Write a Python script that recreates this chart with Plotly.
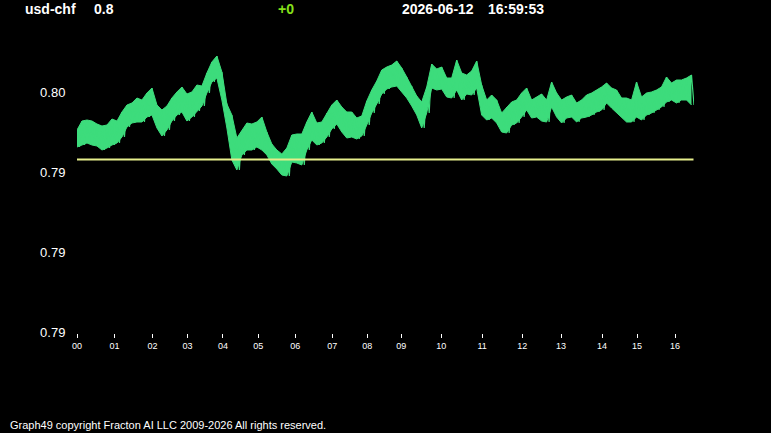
import plotly.graph_objects as go

# --- data ---------------------------------------------------------------
symbol = "usd-chf"
last_price = "0.8"
change = "+0"
date_str = "2026-06-12"
time_str = "16:59:53"
reference_level = 0.7943

# upper / lower envelope of the tick series, one pair per sample
hi = [0.79548, 0.79584, 0.79588, 0.79584, 0.79572, 0.79564, 0.79568, 0.79592, 0.79584, 0.79620,
      0.79648, 0.79656, 0.79676, 0.79668, 0.79696, 0.79716, 0.79648, 0.79628, 0.79644, 0.79676,
      0.79700, 0.79720, 0.79692, 0.79700, 0.79728, 0.79724, 0.79776, 0.79820, 0.79844, 0.79780,
      0.79652, 0.79608, 0.79516, 0.79544, 0.79576, 0.79572, 0.79580, 0.79600, 0.79540, 0.79492,
      0.79468, 0.79452, 0.79476, 0.79528, 0.79532, 0.79532, 0.79580, 0.79620, 0.79576, 0.79580,
      0.79616, 0.79648, 0.79668, 0.79640, 0.79620, 0.79620, 0.79596, 0.79604, 0.79664, 0.79708,
      0.79744, 0.79788, 0.79800, 0.79808, 0.79824, 0.79796, 0.79760, 0.79724, 0.79684, 0.79660,
      0.79720, 0.79812, 0.79792, 0.79800, 0.79756, 0.79756, 0.79828, 0.79776, 0.79768, 0.79784,
      0.79824, 0.79728, 0.79668, 0.79688, 0.79668, 0.79616, 0.79640, 0.79660, 0.79668, 0.79696,
      0.79716, 0.79668, 0.79680, 0.79692, 0.79668, 0.79740, 0.79696, 0.79668, 0.79680, 0.79688,
      0.79656, 0.79668, 0.79688, 0.79696, 0.79708, 0.79720, 0.79736, 0.79716, 0.79708, 0.79676,
      0.79676, 0.79668, 0.79740, 0.79680, 0.79696, 0.79700, 0.79708, 0.79720, 0.79760, 0.79736,
      0.79748, 0.79748, 0.79756, 0.79768]
lo = [0.79480, 0.79488, 0.79496, 0.79488, 0.79484, 0.79468, 0.79476, 0.79488, 0.79496, 0.79520,
      0.79560, 0.79576, 0.79580, 0.79580, 0.79600, 0.79608, 0.79556, 0.79524, 0.79548, 0.79584,
      0.79608, 0.79620, 0.79584, 0.79600, 0.79624, 0.79644, 0.79696, 0.79740, 0.79756, 0.79668,
      0.79556, 0.79428, 0.79388, 0.79448, 0.79468, 0.79468, 0.79480, 0.79468, 0.79448, 0.79412,
      0.79392, 0.79368, 0.79364, 0.79420, 0.79416, 0.79408, 0.79468, 0.79508, 0.79488, 0.79496,
      0.79520, 0.79552, 0.79572, 0.79540, 0.79516, 0.79520, 0.79512, 0.79524, 0.79568, 0.79616,
      0.79652, 0.79692, 0.79712, 0.79720, 0.79724, 0.79700, 0.79676, 0.79644, 0.79608, 0.79556,
      0.79616, 0.79716, 0.79708, 0.79712, 0.79680, 0.79676, 0.79708, 0.79668, 0.79692, 0.79688,
      0.79716, 0.79608, 0.79588, 0.79596, 0.79576, 0.79540, 0.79536, 0.79568, 0.79576, 0.79600,
      0.79628, 0.79596, 0.79600, 0.79584, 0.79580, 0.79640, 0.79600, 0.79576, 0.79596, 0.79600,
      0.79580, 0.79596, 0.79600, 0.79608, 0.79620, 0.79628, 0.79656, 0.79636, 0.79616, 0.79596,
      0.79580, 0.79580, 0.79600, 0.79588, 0.79608, 0.79616, 0.79628, 0.79640, 0.79660, 0.79668,
      0.79656, 0.79668, 0.79668, 0.79648]

# sample index at which each hour starts, and its label
hour_pos = [0, 7.5, 15.1, 22.1, 29.2, 36.3, 43.7, 51.1, 58.1, 64.9, 72.9, 81.1, 89.1,
            96.9, 105.1, 112.1, 119.7]
hour_labels = ["00", "01", "02", "03", "04", "05", "06", "07", "08", "09", "10", "11",
               "12", "13", "14", "15", "16"]
y_ticks = [0.7970, 0.7938, 0.7906, 0.7874]

footer = "Graph49 copyright Fracton AI LLC 2009-2026 All rights reserved."

GREEN = "#3ddc7c"

# --- build the zig-zag tick path from the envelopes ----------------------
idx = list(range(len(hi)))
xs, ys = [], []
for i, (h, l) in enumerate(zip(hi, lo)):
    xs += [i, i + 0.5]
    ys += [h, l]

W, H = 771, 433
L, R, T, B = 77, 77, 40, 100
PW, PH = W - L - R, H - T - B


def px(x):
    return (x - L) / PW


def py(y):
    return (H - B - y) / PH


fig = go.Figure()
# solid body of the band
fig.add_trace(go.Scatter(x=idx, y=lo, mode="lines", line=dict(color=GREEN, width=1),
                         hoverinfo="skip", showlegend=False))
fig.add_trace(go.Scatter(x=idx, y=hi, mode="lines", line=dict(color=GREEN, width=1),
                         fill="tonexty", fillcolor=GREEN,
                         hoverinfo="skip", showlegend=False))
# jagged tick path on top
fig.add_trace(go.Scatter(x=xs, y=ys, mode="lines",
                         line=dict(color=GREEN, width=1.2),
                         hoverinfo="skip", showlegend=False))
fig.add_trace(go.Scatter(x=[0, len(hi) - 0.6], y=[reference_level, reference_level],
                         mode="lines", line=dict(color="#e6ee8c", width=2),
                         hoverinfo="skip", showlegend=False))

font = "Liberation Sans, Arial, sans-serif"
ann = []
title_y = py(9)
for text, x, color in [(symbol, 23, "white"), (last_price, 92, "white"),
                       (change, 276, "#86e01a"), (date_str, 400, "white"),
                       (time_str, 486, "white")]:
    ann.append(dict(text=f"<b>{text}</b>", x=px(x), y=title_y, xref="paper", yref="paper",
                    xanchor="left", yanchor="middle", showarrow=False,
                    font=dict(family=font, size=14, color=color)))
ann.append(dict(text=footer, x=px(8), y=py(425), xref="paper", yref="paper",
                xanchor="left", yanchor="middle", showarrow=False,
                font=dict(family=font, size=11, color="white")))

fig.update_layout(
    width=W, height=H,
    margin=dict(l=L, r=R, t=T, b=B),
    paper_bgcolor="black", plot_bgcolor="black",
    annotations=ann,
    xaxis=dict(range=[0, len(hi) - 0.5], tickvals=hour_pos, ticktext=hour_labels,
               showgrid=False, zeroline=False, showline=False,
               ticks="outside", ticklen=4, tickwidth=1, tickcolor="white",
               tickfont=dict(family=font, size=9, color="white")),
    yaxis=dict(range=[0.78736, 0.79908], tickvals=y_ticks, tickformat=".2f",
               showgrid=False, zeroline=False, showline=False,
               ticks="outside", ticklen=8, tickcolor="rgba(0,0,0,0)",
               tickfont=dict(family=font, size=13, color="white")),
)

fig.write_html("out.html")
